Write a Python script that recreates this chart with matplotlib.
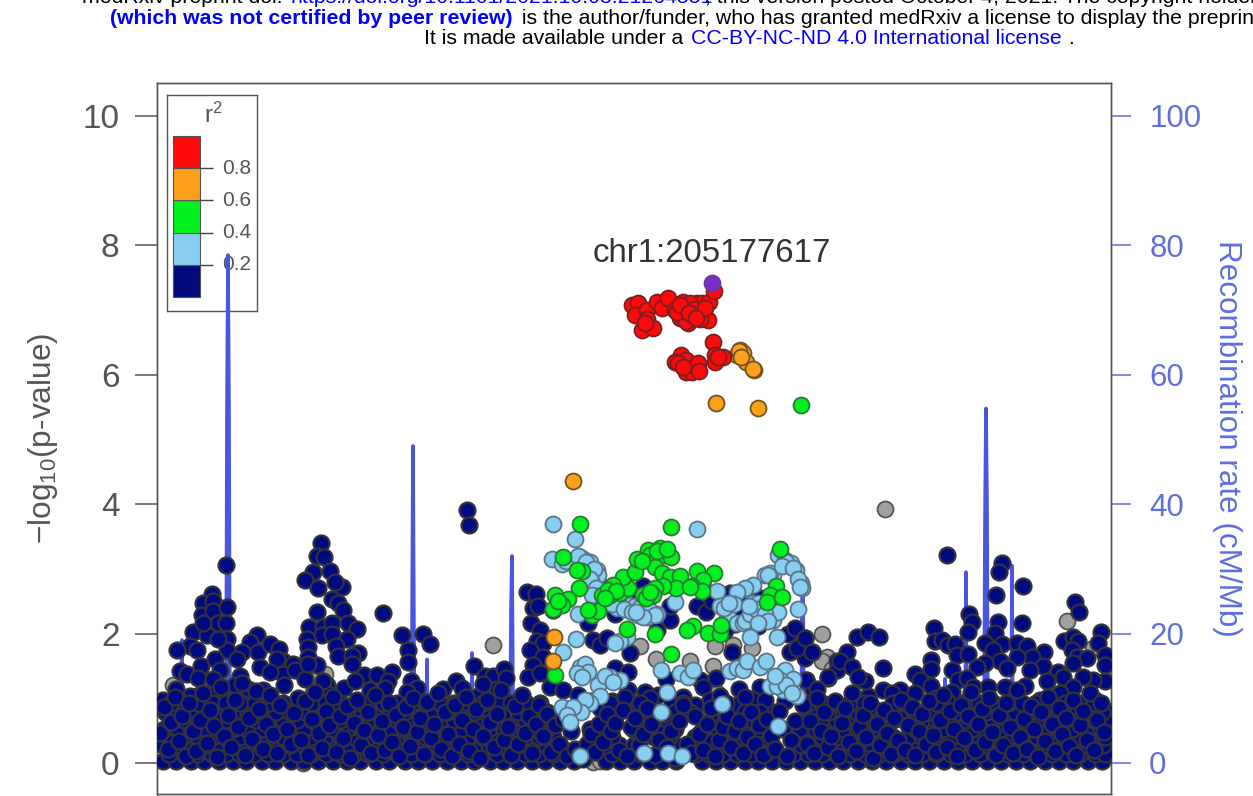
import matplotlib
matplotlib.use("Agg")
from matplotlib import pyplot as plt

plt.rcParams['font.family'] = ['Liberation Sans', 'DejaVu Sans']
plt.rcParams['mathtext.default'] = 'regular'

W, H = 1253, 796

purple_x = [712]
purple_y = [7.42]

red_x = [632, 638, 635, 647, 647, 642, 653, 645, 657, 662, 668, 675, 680, 683, 687, 688, 692, 697, 702, 703, 708, 709, 714,
         685, 683, 690, 686, 700, 677, 680, 694, 705, 689, 696,
         713, 715, 715, 723, 681, 675, 686, 686, 692, 698, 699, 678, 718, 683]
red_y = [7.08, 7.11, 6.92, 7.00, 6.86, 6.69, 6.72, 6.80, 7.13, 7.03, 7.19, 7.00, 6.88, 7.13, 7.05, 6.80, 6.92, 7.11, 7.11, 6.92, 6.85, 7.13, 7.30,
         7.00, 6.89, 7.11, 6.83, 6.86, 6.97, 7.08, 7.02, 7.03, 6.95, 6.88,
         6.51, 6.31, 6.20, 6.28, 6.31, 6.20, 6.23, 6.04, 6.04, 6.18, 6.06, 6.18, 6.27, 6.12]

orange_x = [740, 737, 743, 739, 746, 754, 716, 758, 573, 554, 553, 741, 753]
orange_y = [6.38, 6.31, 6.34, 6.36, 6.20, 6.07, 5.56, 5.49, 4.36, 1.94, 1.58, 6.28, 6.09]

green_x = [801, 580, 671, 563, 780,
           582, 577, 579, 568, 555, 562, 553, 592, 598, 588,
           602, 610, 620, 628, 623, 613, 635, 637, 648, 650, 660, 664, 671, 655, 662, 670, 680, 697, 714, 703, 692, 702, 676, 663, 655, 643, 653,
           627, 655, 671, 693, 687, 708, 720, 721, 555, 776, 770, 767, 782,
           558, 608, 616, 646, 657, 642, 667, 690, 650, 605]
green_y = [5.53, 3.70, 3.64, 3.19, 3.30,
           2.96, 2.98, 2.70, 2.54, 2.59, 2.44, 2.38, 2.29, 2.35, 2.37,
           2.60, 2.60, 2.62, 2.70, 2.88, 2.75, 2.95, 3.15, 3.29, 3.21, 3.33, 3.21, 3.18, 3.03, 2.93, 2.88, 2.89, 2.96, 2.93, 2.83, 2.74, 2.66, 2.70, 2.74, 2.70, 2.60, 2.60,
           2.07, 2.00, 1.68, 2.11, 2.05, 2.01, 2.00, 2.13, 1.36, 2.73, 2.60, 2.49, 2.57,
           2.50, 2.68, 2.66, 2.55, 3.27, 3.12, 3.30, 2.72, 2.65, 2.55]

sky_x = [553, 575, 552, 562, 580, 583, 590, 597, 598, 592, 594, 578, 576, 563, 697,
         765, 773, 778, 785, 791, 796, 801, 802, 798, 753, 745, 737, 717,
         675, 657, 647, 638, 628, 620, 617, 647, 635,
         720, 727, 737, 743, 752, 758, 760, 753, 773, 778, 750, 777, 627, 620, 615,
         580, 585, 588, 577, 582, 620, 610, 605, 598, 600, 590, 585, 562, 581, 573, 567, 570,
         661, 667, 661, 680, 688, 693, 722, 730, 737, 743, 747, 760, 766, 770, 785, 793, 780, 783, 797, 778, 777,
         580, 644, 668, 682,
         612, 624, 632, 641, 650, 655, 643, 636, 734, 724, 729, 745, 750, 756, 749, 765, 768, 758, 770, 768, 786, 782, 793, 798, 800,
         566, 578, 586, 594, 590, 596, 592, 605, 613, 786, 792, 775]
sky_y = [3.70, 3.46, 3.16, 3.08, 3.19, 3.16, 3.11, 2.98, 2.91, 2.78, 2.65, 2.30, 1.91, 1.71, 3.62,
         2.91, 2.90, 3.21, 3.14, 3.09, 2.98, 2.78, 2.70, 2.38, 2.75, 2.70, 2.65, 2.66,
         2.49, 2.31, 2.26, 2.29, 2.44, 2.42, 2.39, 2.42, 2.42,
         2.42, 2.31, 2.16, 2.16, 2.47, 2.47, 2.26, 2.21, 2.21, 2.34, 1.94, 1.94, 1.95, 1.88, 1.86,
         1.49, 1.53, 1.41, 1.39, 1.33, 1.28, 1.33, 1.28, 1.20, 1.04, 0.92, 0.97, 0.86, 0.78, 0.87, 0.74, 0.63,
         1.43, 1.10, 0.78, 1.39, 1.33, 1.44, 0.91, 1.42, 1.46, 1.43, 1.57, 1.49, 1.58, 1.19, 1.44, 1.30, 1.28, 1.13, 1.03, 0.57, 1.19,
         0.11, 0.16, 0.16, 0.10,
         2.45, 2.38, 2.33, 2.42, 2.35, 2.28, 2.25, 2.33, 2.45, 2.40, 2.47, 2.20, 2.30, 2.38, 2.43, 2.30, 2.20, 2.17, 2.93, 2.90, 3.10, 3.05, 3.02, 2.85, 2.72,
         3.12, 3.20, 3.10, 3.00, 2.85, 2.70, 2.60, 1.35, 1.25, 1.20, 1.08, 1.35]

grey_x = [885, 493, 640, 656, 690, 713, 715, 733, 752, 822, 827, 822, 810, 717, 593, 1067, 325, 317, 252, 173, 303, 313, 1093, 832, 600]
grey_y = [3.93, 1.82, 1.81, 1.60, 1.57, 1.50, 1.80, 1.82, 1.77, 2.00, 1.64, 1.57, 0.95, 1.08, 0.02, 2.19, 1.37, 1.31, 1.00, 1.20, 0.00, 1.10, 1.78, 1.45, 0.03]

# navy points standing clear of the dense band
navy_left_x = [226, 212, 203, 213, 202, 213, 227, 218, 226, 193, 207, 203, 190, 197, 177, 227, 227, 218, 201, 180, 187, 198, 215, 220, 176, 199, 190, 180, 163, 200, 192,
               257, 250, 242, 258, 270, 279, 237, 283, 293, 283, 295, 305, 263, 240, 260, 277, 270, 248, 235, 220, 215, 213,
               321, 317, 324, 313, 330, 305, 318, 342, 335, 332, 338, 343, 317, 309, 323, 332, 348, 357, 322, 332, 347, 307, 308, 336, 338, 358, 352, 352, 308, 317, 308,
               383, 402, 423, 430, 408, 408, 474, 344, 327, 329, 323, 364, 377, 392, 388, 385, 355, 370, 374, 377, 392, 411, 417, 407,
               443, 456, 462, 485, 493, 504, 506, 497, 478, 483, 467, 469]
navy_left_y = [3.06, 2.61, 2.48, 2.51, 2.28, 2.35, 2.41, 2.17, 2.17, 2.02, 1.97, 2.17, 1.81, 1.75, 1.74, 1.92, 1.74, 1.92, 1.50, 1.42, 1.37, 1.32, 1.61, 1.43, 1.14, 1.05, 1.04, 0.96, 0.97, 0.86, 0.78,
               1.97, 1.87, 1.71, 1.71, 1.84, 1.76, 1.61, 1.58, 1.53, 1.38, 1.43, 1.29, 1.12, 1.35, 1.48, 1.61, 1.40, 1.14, 1.20, 1.09, 1.12, 1.30,
               3.40, 3.20, 3.19, 2.95, 2.97, 2.83, 2.70, 2.72, 2.79, 2.54, 2.48, 2.36, 2.33, 2.10, 2.10, 2.17, 2.17, 2.07, 1.97, 1.99, 1.92, 1.92, 1.79, 1.81, 1.65, 1.70, 1.66, 1.53, 1.63, 1.52, 1.53,
               2.32, 1.97, 1.99, 1.84, 1.74, 1.56, 1.50, 1.16, 1.20, 1.07, 1.27, 1.36, 1.36, 1.40, 1.27, 1.16, 1.27, 1.12, 1.01, 0.83, 0.81, 1.27, 1.16, 1.09,
               1.14, 1.27, 1.16, 1.35, 1.35, 1.45, 1.32, 1.14, 1.04, 1.22, 3.91, 3.68]

navy_mid_x = [527, 536, 533, 538, 531, 540, 537, 543, 530, 543, 533, 528, 540, 550, 563, 523,
              553, 588, 593, 600, 607, 630, 615, 628, 628, 645, 658, 672, 666, 657, 670, 670, 697, 706, 643, 615,
              700, 703, 716, 732, 739, 760, 737, 710, 752, 767, 788, 795, 805, 812, 805, 790, 797, 806, 813, 828, 837, 837,
              737, 730, 758,
              610, 618, 640, 650, 707, 712, 726, 745, 760, 740, 735, 725, 578, 590, 600, 612, 625, 640, 650, 683, 695, 720, 745, 765, 785]
navy_mid_y = [2.64, 2.61, 2.39, 2.43, 2.16, 2.05, 1.88, 1.85, 1.75, 1.64, 1.51, 1.33, 1.39, 1.18, 1.13, 0.90,
              2.36, 2.16, 1.90, 1.82, 1.93, 1.70, 1.46, 1.41, 1.13, 1.10, 1.05, 0.95, 1.30, 2.05, 2.21, 2.42, 2.42, 2.34, 2.73, 2.31,
              1.28, 1.18, 1.31, 1.72, 1.15, 1.18, 0.90, 0.97, 0.99, 0.84, 2.00, 2.08, 1.93, 1.72, 1.62, 1.72, 1.77, 1.28, 1.13, 1.31, 1.57, 1.44,
              2.57, 2.62, 2.11,
              2.72, 2.60, 2.55, 2.65, 2.65, 2.50, 2.60, 2.55, 2.55, 2.35, 2.15, 2.05, 1.05, 0.95, 0.85, 0.95, 1.02, 0.92, 1.00, 1.02, 0.90, 1.03, 1.02, 0.98, 0.95]

navy_right_x = [947, 1002, 999, 1023, 996, 1075, 1079, 969, 972, 968, 998, 1022, 995, 934, 1101, 1098, 857, 868, 879, 883, 847, 805, 812, 806, 840, 852, 828, 817,
                935, 942, 948, 955, 957, 968, 931, 931, 952, 915, 920, 931, 985, 1002, 993, 1017, 1027, 1044, 1032, 1043, 1030, 1017, 1000, 985, 977, 1007, 958, 967, 1025, 1005, 988, 952, 973, 968, 947, 936, 942, 930,
                900, 915, 908, 883, 892, 868, 865, 858, 875, 870, 900, 917, 893,
                1064, 1073, 1078, 1072, 1077, 1087, 1105, 1105, 1105, 1093, 1073, 1058, 1047, 1063, 1083, 1073, 1060, 1040, 1095, 1105, 1083, 1073]
navy_right_y = [3.21, 3.09, 2.95, 2.73, 2.59, 2.49, 2.33, 2.30, 2.18, 2.03, 2.18, 2.17, 2.01, 2.08, 2.03, 1.85, 1.95, 2.02, 1.95, 1.46, 1.71, 1.93, 1.72, 1.28, 1.57, 1.49, 1.33, 1.15,
                1.88, 1.90, 1.82, 1.84, 1.67, 1.68, 1.59, 1.45, 1.44, 1.38, 1.28, 1.19, 1.85, 1.84, 1.75, 1.85, 1.81, 1.71, 1.64, 1.50, 1.44, 1.64, 1.57, 1.54, 1.49, 1.46, 1.28, 1.31, 1.19, 1.18, 1.18, 1.10, 1.18, 0.98, 0.95, 1.00, 0.80, 0.82,
                1.13, 1.08, 0.90, 1.13, 1.08, 1.03, 1.26, 1.33, 0.82, 0.61, 0.69, 0.56, 0.72,
                1.89, 1.95, 1.89, 1.75, 1.64, 1.62, 1.67, 1.52, 1.26, 1.28, 1.54, 1.41, 1.27, 1.33, 1.33, 1.18, 1.08, 0.97, 0.97, 0.82, 0.82, 0.82]

# the dense low band, listed level by level
band_y = [0.03, 0.14, 0.27, 0.40, 0.53, 0.66, 0.79, 0.92]
band_x = [
    [163, 176, 191, 204, 219, 233, 246, 262, 275, 291, 304, 318, 333, 347, 360, 376, 389, 405, 418, 432, 447, 461, 474, 490, 503, 517, 532, 545, 560, 574, 606, 620, 634, 650, 662, 676, 702, 716, 730, 745, 758, 772, 786, 800, 815, 829, 843, 858, 872, 886, 901, 915, 929, 944, 958, 972, 987, 1001, 1016, 1030, 1045, 1059, 1073, 1088, 1102],
    [169, 184, 197, 212, 226, 240, 254, 268, 283, 297, 311, 326, 340, 354, 368, 383, 397, 411, 425, 440, 454, 468, 482, 497, 510, 525, 539, 553, 567, 612, 628, 641, 656, 695, 709, 723, 737, 751, 765, 793, 808, 822, 836, 850, 865, 879, 894, 908, 922, 936, 951, 965, 980, 994, 1008, 1023, 1037, 1052, 1066, 1080, 1095, 1105],
    [163, 177, 190, 205, 218, 233, 247, 261, 276, 290, 304, 319, 333, 347, 361, 375, 390, 404, 418, 433, 447, 461, 475, 489, 504, 518, 532, 546, 560, 590, 605, 619, 634, 664, 676, 703, 717, 731, 745, 772, 801, 815, 829, 843, 857, 872, 886, 900, 915, 929, 943, 958, 972, 986, 1001, 1015, 1030, 1044, 1058, 1073, 1087, 1103],
    [170, 183, 198, 212, 225, 240, 254, 268, 283, 297, 311, 325, 340, 354, 368, 382, 397, 411, 425, 439, 454, 468, 482, 496, 511, 525, 539, 553, 598, 612, 640, 654, 669, 695, 710, 724, 738, 752, 766, 794, 808, 822, 836, 851, 865, 879, 893, 908, 922, 936, 951, 965, 979, 994, 1008, 1022, 1037, 1051, 1066, 1080, 1094, 1105],
    [164, 178, 191, 205, 219, 233, 247, 262, 276, 290, 304, 319, 333, 347, 361, 375, 390, 404, 418, 432, 447, 461, 475, 489, 504, 518, 532, 547, 590, 604, 633, 647, 662, 675, 703, 718, 731, 745, 759, 800, 815, 829, 843, 857, 872, 886, 915, 929, 943, 958, 972, 986, 1001, 1015, 1029, 1044, 1058, 1072, 1087, 1101],
    [170, 184, 198, 212, 226, 240, 255, 269, 283, 297, 312, 326, 340, 354, 369, 383, 397, 411, 425, 440, 454, 468, 482, 497, 511, 525, 540, 606, 640, 654, 668, 711, 725, 738, 752, 766, 808, 822, 836, 850, 864, 879, 893, 922, 936, 951, 965, 979, 993, 1008, 1022, 1037, 1051, 1065, 1080, 1094, 1105],
    [165, 178, 191, 205, 219, 233, 248, 262, 276, 290, 305, 319, 333, 347, 362, 376, 390, 404, 419, 433, 447, 461, 475, 490, 504, 518, 533, 547, 618, 633, 648, 675, 690, 745, 760, 815, 829, 843, 857, 886, 915, 929, 958, 972, 986, 1001, 1015, 1029, 1044, 1058, 1072, 1087, 1102],
    [171, 198, 212, 226, 240, 255, 269, 283, 298, 312, 326, 340, 355, 369, 383, 397, 412, 426, 440, 454, 468, 483, 497, 511, 526, 540, 610, 640, 683, 726, 808, 822, 836, 850, 864, 893, 936, 965, 979, 993, 1008, 1022, 1036, 1051, 1065, 1080, 1094],
]

# more points scattered through that band
fill_left_x = [160, 164, 168, 171, 175, 179, 182, 186, 189, 193, 196, 200, 203, 207, 210, 214, 217, 221, 224, 228, 231, 235, 238, 242, 245, 249, 252, 256, 259, 263, 266, 270, 273, 277, 280, 284, 287, 291, 294, 298]
fill_left_y = [.47, .86, .21, .63, 1.02, .34, .72, .11, .93, .49, .18, .66, 1.08, .31, .82, .57, .09, 1.18, .41, .74, .24, .98, .55, 1.24, .13, .69, .37, 1.11, .83, .22, .6, 1.05, .44, .16, .9, 1.2, .52, .29, .77, 1.0]
fill_mid1_x = [301, 305, 308, 312, 315, 319, 322, 326, 329, 333, 336, 340, 343, 347, 350, 354, 357, 361, 364, 368, 371, 375, 378, 382, 385, 389, 392, 396, 399, 403, 406, 410, 413, 417, 420, 424, 427, 431, 434, 438, 441, 445, 448, 452, 455, 459, 462, 466, 469, 473, 476, 480, 483, 487, 490, 494, 497, 501, 504, 508, 511, 515, 518, 522, 525, 529, 532, 536, 539]
fill_mid1_y = [.35, .95, .12, .68, 1.1, .46, .23, .81, .58, 1.02, .17, .73, .39, .88, .08, .62, .97, .28, .51, .79, .15, 1.05, .43, .65, .2, .92, .33, .74, .1, .56, .86, .26, 1.0, .48, .7, .14, .94, .38, .6, 1.08, .22, .78, .45, .11, .9, .3, .67, 1.02, .19, .53, .84, .07, .41, .98, .63, .25, .76, 1.12, .36, .55, .13, .88, .29, 1.05, .47, .72, .16, .6, .9]
fill_mid2_x = [543, 547, 551, 555, 559, 563, 567, 571, 575, 579, 583, 587, 591, 595, 599, 603, 607, 611, 615, 619, 623, 627, 631, 635, 639, 643, 647, 651, 655, 659, 663, 667, 671, 675, 679, 683, 687, 691, 695, 699, 703, 707, 711, 715, 719, 723, 727, 731, 735, 739, 743, 747, 751, 755, 759, 763, 767, 771, 775, 779, 783, 787, 791, 795]
fill_mid2_y = [.42, .75, .17, .58, .3, .68, .1, .5, .22, .12, .06, .3, .45, .17, .6, .33, .75, .5, .62, .2, .82, .1, .55, .7, .28, .44, .85, .6, .13, .35, .75, .24, .5, .08, .65, .9, .3, .15, .72, .45, .2, .6, .85, .1, .35, .55, .72, .25, .5, .65, .15, .4, .78, .3, .58, .12, .68, .42, .22, .8, .52, .1, .35, .65]
fill_right_x = [803, 807, 810, 814, 817, 821, 824, 828, 831, 835, 838, 842, 845, 849, 852, 856, 859, 863, 866, 870, 873, 877, 880, 884, 887, 891, 894, 898, 901, 905, 908, 912, 915, 919, 922, 926, 929, 933, 936, 940, 943, 947, 950, 954, 957, 961, 964, 968, 971, 975, 978, 982, 985, 989, 992, 996, 999, 1003, 1006, 1010, 1013, 1017, 1020, 1024, 1027, 1031, 1034, 1038, 1041, 1045, 1048, 1052, 1055, 1059, 1062, 1066, 1069, 1073, 1076, 1080, 1083, 1087, 1090, 1094, 1097, 1101, 1104]
fill_right_y = [.9, .3, .65, .15, 1.0, .5, .78, .24, .42, .95, .1, .62, .85, .33, 1.08, .18, .55, .74, .4, .92, .08, .6, .28, .82, .47, .14, .7, .36, .98, .2, .58, .86, .12, .5, .76, .3, .95, .43, .17, .66, 1.05, .25, .8, .53, .1, .9, .38, .72, 1.1, .2, .6, .84, .33, 1.0, .48, .12, .74, .28, .92, .56, .16, 1.12, .4, .68, .22, .88, .52, .09, .78, .34, 1.02, .6, .18, .85, .44, .7, .26, .98, .13, .58, .8, .36, 1.08, .2, .66, .92, .48]

# recombination rate (cM/Mb)
recomb_x = [157, 180, 181, 182, 183, 226, 227, 228, 229, 230, 411, 412, 413, 414, 415, 426, 427, 428, 471, 472, 473, 510, 511, 512, 513, 514, 801, 802, 803, 804, 944, 945, 946, 949, 950, 951, 965, 966, 967, 984, 985, 986, 987, 988, 1011, 1012, 1013, 1111]
recomb_rate = [0.4, 0.6, 12.0, 19.0, 0.5, 1.0, 56.0, 78.5, 54.0, 1.0, 1.0, 20.0, 49.0, 18.0, 1.0, 1.0, 16.0, 0.8, 0.8, 17.0, 0.8, 0.8, 24.0, 32.0, 10.0, 0.8, 0.8, 25.0, 30.0, 0.8, 0.8, 13.0, 0.8, 0.8, 12.0, 0.8, 0.8, 29.5, 0.8, 0.8, 38.0, 54.8, 40.0, 0.8, 0.8, 30.5, 0.8, 0.5]

# legend
r2_edges = [0.0, 0.2, 0.4, 0.6, 0.8]
r2_colors = ['#000a78', '#87cef0', '#00f020', '#ffa01a', '#ff0a0a']
r2_ticks = [0.2, 0.4, 0.6, 0.8]

# header lines of the preprint page: text, x, baseline y, colour, weight
header_text = [
    "medRxiv preprint doi: ",
    "https://doi.org/10.1101/2021.10.03.21264551",
    "; this version posted October 4, 2021. The copyright holder for this preprint",
    "(which was not certified by peer review)",
    " is the author/funder, who has granted medRxiv a license to display the preprint in perpetuity.",
    "It is made available under a ",
    "CC-BY-NC-ND 4.0 International license",
    " .",
]
header_left = [82, 290, 705, 110, 516, 424, 691, 1063]
header_base = [3, 3, 3, 24, 24, 44, 44, 44]
header_color = ['black', '#0000ff', 'black', '#0000ff', 'black', 'black', '#0000ff', 'black']
header_weight = ['normal', 'normal', 'normal', 'bold', 'normal', 'normal', 'normal', 'normal']

navy_x = navy_left_x + navy_mid_x + navy_right_x
navy_y = navy_left_y + navy_mid_y + navy_right_y
for level, xs in zip(band_y, band_x):
    navy_x = navy_x + xs
    navy_y = navy_y + [level] * len(xs)
for xs, ys in [(fill_left_x, fill_left_y), (fill_mid1_x, fill_mid1_y), (fill_mid2_x, fill_mid2_y), (fill_right_x, fill_right_y)]:
    for x, y in zip(xs, ys):
        navy_x.append(x)
        navy_y.append(y)

fig = plt.figure(figsize=(W / 100, H / 100), dpi=100)
ax2 = fig.add_axes([157 / W, 1 - 794 / H, 954 / W, 711 / H])
ax = ax2.twinx()
ax.yaxis.tick_left()
ax.yaxis.set_label_position('left')
ax2.yaxis.tick_right()
ax2.yaxis.set_label_position('right')
ax.set_zorder(2)
ax2.set_zorder(1)
ax.patch.set_visible(False)

ylim = (-0.48, 10.51)
ax.set_xlim(157, 1111)
ax.set_ylim(*ylim)
ax2.set_ylim(ylim[0] * 10, ylim[1] * 10)

ax2.plot(recomb_x, recomb_rate, color='#4a55e0', lw=2.6, zorder=3, solid_joinstyle='round')


def draw(xs, ys, fill, edge, z, lw=1.3):
    ax.scatter(xs, ys, s=132, c=fill, edgecolors=edge, linewidths=lw, zorder=z, clip_on=True)


draw(grey_x, grey_y, '#a0a0a0', '#555555', 3)
draw(navy_x, navy_y, '#000a80', '#33333c', 4, lw=1.6)
draw(sky_x, sky_y, '#87cef0', '#5a7488', 5)
draw(green_x, green_y, '#00f020', '#2a7a30', 6)
draw(orange_x, orange_y, '#ffa01a', '#6e5522', 7)
draw(red_x, red_y, '#ff0a0a', '#7a2020', 8)
draw(purple_x, purple_y, '#7a2fc4', '#6a3a9a', 9)

ax.text(712, 7.87, "chr1:205177617", ha='center', va='center', fontsize=23.8, color='#333333', zorder=10)

ax.set_xticks([])
ax2.set_xticks([])
ax.set_yticks([0, 2, 4, 6, 8, 10])
ax2.set_yticks([0, 20, 40, 60, 80, 100])
ax.tick_params(axis='y', length=16, width=1.1, color='#555555', labelcolor='#555555', labelsize=24, pad=11)
ax2.tick_params(axis='y', length=14.5, width=1.2, color='#6a78e0', labelcolor='#5f6ee0', labelsize=22.5, pad=13)
ax.set_ylabel("\u2212log$_{10}$(p-value)", fontsize=22.8, color='#555555', labelpad=16)
ax2.set_ylabel("Recombination rate (cM/Mb)", fontsize=22.6, color='#5f6ee0', rotation=270, labelpad=29)
for a in (ax, ax2):
    for sp in a.spines.values():
        sp.set_color('#555555')
        sp.set_linewidth(1.0)

# r2 key, blocks span 0-1
lg = ax2.inset_axes([10 / 954, (794 - 311) / 711, 90 / 954, 216 / 711], zorder=1)
lg.set_xlim(0, 90)
lg.set_ylim(-14 / 161, 202 / 161)
lg.set_xticks([])
lg.set_yticks([])
for sp in lg.spines.values():
    sp.set_color('#555555')
    sp.set_linewidth(1.0)
lg.bar([6] * 5, [0.2] * 5, width=27, bottom=r2_edges, color=r2_colors, align='edge', edgecolor='#555555', linewidth=0.8)
lg.hlines(r2_ticks, 33, 46, color='#444444', lw=1.0)
for t in r2_ticks:
    lg.text(55, t, f"{t:.1f}", va='center', ha='left', fontsize=15, color='#555555')
lg.text(46, 1.13, "r$^2$", ha='center', va='center', fontsize=17, color='#555555')

for txt, x, y, col, wt in zip(header_text, header_left, header_base, header_color, header_weight):
    fig.text(x / W, 1 - y / H, txt, ha='left', va='baseline', fontsize=15.3, color=col, fontweight=wt)

fig.savefig("out.png", dpi=100)
